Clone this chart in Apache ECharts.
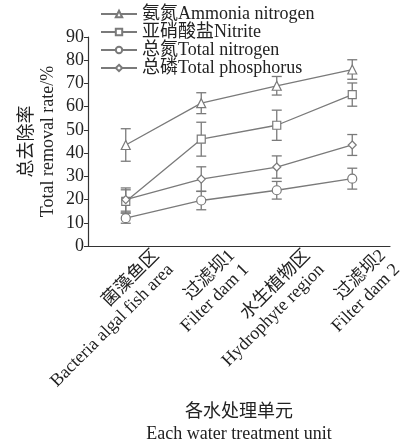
<!DOCTYPE html>
<html>
<head>
<meta charset="utf-8">
<script src="https://cdn.jsdelivr.net/npm/echarts@6/dist/echarts.min.js"></script>
<style>html,body{margin:0;padding:0;background:#fff}#c{width:409px;height:446px}</style>
</head>
<body>
<div id="c"></div>
<script>
const categories = ['菌藻鱼区\nBacteria algal fish area', '过滤坝1\nFilter dam 1', '水生植物区\nHydrophyte region', '过滤坝2\nFilter dam 2'];
const seriesNames = ['氨氮Ammonia nitrogen', '亚硝酸盐Nitrite', '总氮Total nitrogen', '总磷Total phosphorus'];
const ammonia = [43.5, 61.5, 69, 76];
const ammoniaErr = [7, 4.5, 4, 4.2];
const nitrite = [19.2, 46, 52, 65.2];
const nitriteErr = [5, 7.3, 6.5, 5];
const totalN = [12, 19.6, 24, 29];
const totalNErr = [2.2, 4, 3.8, 4.5];
const totalP = [20, 28.8, 34, 43.5];
const totalPErr = [5, 5.3, 4.8, 4.5];
const yTicks = [0, 10, 20, 30, 40, 50, 60, 70, 80, 90];

const FONT = '"Liberation Serif", "Noto Sans CJK SC", serif';
const GRAY = '#7a7a7a';
const TXT = '#222';

function lineSeries(name, vals, symbol, size) {
  return {
    name: name, type: 'line', data: vals, symbol: symbol, symbolSize: size,
    itemStyle: { color: '#fff', borderColor: GRAY, borderWidth: 1.2 },
    lineStyle: { color: GRAY, width: 1.3 },
    z: 3
  };
}
function errSeries(vals, errs) {
  return {
    type: 'custom', silent: true, z: 2,
    data: vals.map((v, i) => [i, v - errs[i], v + errs[i]]),
    renderItem: function (params, api) {
      const lo = api.coord([api.value(0), api.value(1)]);
      const hi = api.coord([api.value(0), api.value(2)]);
      const w = 5;
      const st = { stroke: GRAY, lineWidth: 1.3 };
      return {
        type: 'group', children: [
          { type: 'line', shape: { x1: lo[0], y1: lo[1], x2: hi[0], y2: hi[1] }, style: st },
          { type: 'line', shape: { x1: lo[0] - w, y1: lo[1], x2: lo[0] + w, y2: lo[1] }, style: st },
          { type: 'line', shape: { x1: hi[0] - w, y1: hi[1], x2: hi[0] + w, y2: hi[1] }, style: st }
        ]
      };
    }
  };
}

const chart = echarts.init(document.getElementById('c'), null, { renderer: 'canvas' });
chart.setOption({
  animation: false,
  backgroundColor: '#fff',
  textStyle: { fontFamily: FONT, color: TXT },
  legend: {
    data: seriesNames, orient: 'vertical', left: 100, top: 5, padding: 0,
    itemWidth: 36, itemHeight: 8, itemGap: 0,
    textStyle: { fontFamily: FONT, fontSize: 18, color: TXT, lineHeight: 18 }
  },
  grid: { left: 88, right: 19, top: 37, bottom: 200, containLabel: false },
  xAxis: [{
    type: 'category', data: categories, boundaryGap: true,
    axisLine: { lineStyle: { color: '#333', width: 1.2 } },
    axisTick: { inside: true, length: 5, lineStyle: { color: '#333' } },
    axisLabel: { show: false },
    name: '各水处理单元\nEach water treatment unit', nameLocation: 'middle', nameGap: 155,
    nameMoveOverlap: false,
    nameTextStyle: { fontFamily: FONT, fontSize: 18, color: TXT, lineHeight: 22, verticalAlign: 'top' }
  }, {
    type: 'category', data: [''].concat(categories), boundaryGap: false, position: 'bottom',
    axisLine: { show: false }, axisTick: { show: false },
    axisLabel: { interval: 0, rotate: 45, margin: 14, fontFamily: FONT, fontSize: 18, color: TXT, lineHeight: 20 }
  }],
  yAxis: {
    type: 'value', min: 0, max: 90, interval: 10,
    splitLine: { show: false },
    axisLine: { show: true, lineStyle: { color: '#333', width: 1.2 } },
    axisTick: { show: true, length: 4, lineStyle: { color: '#333' } },
    axisLabel: { margin: 4, fontFamily: FONT, fontSize: 18, color: TXT,
      formatter: v => (yTicks.indexOf(v) >= 0 ? String(v) : '') },
    name: '总去除率\nTotal removal rate/%', nameLocation: 'middle', nameRotate: 90, nameGap: 29,
    nameMoveOverlap: false,
    nameTextStyle: { fontFamily: FONT, fontSize: 18, color: TXT, lineHeight: 21 }
  },
  series: [
    errSeries(ammonia, ammoniaErr),
    errSeries(nitrite, nitriteErr),
    errSeries(totalN, totalNErr),
    errSeries(totalP, totalPErr),
    lineSeries(seriesNames[0], ammonia, 'triangle', 9),
    lineSeries(seriesNames[1], nitrite, 'rect', 8),
    lineSeries(seriesNames[2], totalN, 'circle', 9),
    lineSeries(seriesNames[3], totalP, 'diamond', 8)
  ]
});
</script>
</body>
</html>
